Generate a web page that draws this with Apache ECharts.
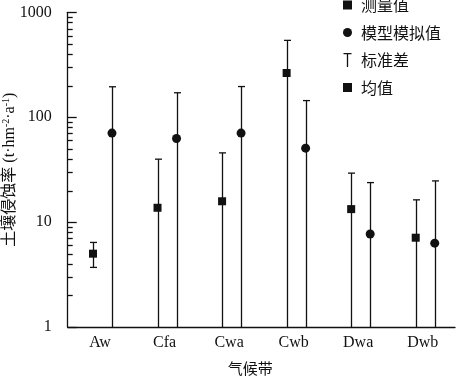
<!DOCTYPE html>
<html><head><meta charset="utf-8">
<script src="https://cdn.jsdelivr.net/npm/echarts@6/dist/echarts.min.js"></script>
<style>html,body{margin:0;padding:0;background:#fff}#c{width:457px;height:379px}</style>
</head><body><div id="c"></div>
<script>
const categories = ['Aw', 'Cfa', 'Cwa', 'Cwb', 'Dwa', 'Dwb'];
const measuredMean  = [5.0, 13.7, 15.8, 264, 13.3, 7.1];
const measuredUpper = [6.4, 39.8, 45.7, 540, 29.3, 16.3];
const measuredLower = [3.7, null, null, null, null, null];
const modelMean  = [70.5, 62.6, 70.5, 50.7, 7.7, 6.3];
const modelUpper = [195, 171, 196, 144, 23.8, 24.7];
const modelLower = [null, null, null, null, null, null];
const yTickValues = [1, 10, 100, 1000];
const minorTickValues = [2,3,4,5,6,7,8,9,20,30,40,50,60,70,80,90,200,300,400,500,600,700,800,900];

const Y_MIN = yTickValues[0], Y_MAX = yTickValues[yTickValues.length - 1];
const INK = '#111';
const SERIF = '"Liberation Serif","Times New Roman","Noto Sans CJK SC",serif';
const CJK = '"Noto Sans CJK SC",sans-serif';
const OFF_MEAS = -7, OFF_MODEL = 12;

function errData(upper, lower) {
  return categories.map((c, i) => [i, upper[i], lower[i] == null ? Y_MIN : lower[i], lower[i] == null ? 0 : 1]);
}
function errRender(offset) {
  return function (params, api) {
    const i = api.value(0);
    const top = api.coord([i, api.value(1)]);
    const bot = api.coord([i, api.value(2)]);
    const x = Math.round(top[0] + offset) + 0.5;
    const st = { stroke: INK, lineWidth: 1.3 };
    const ch = [
      { type: 'line', shape: { x1: x, y1: top[1], x2: x, y2: bot[1] }, style: st },
      { type: 'line', shape: { x1: x - 3.5, y1: top[1], x2: x + 3.5, y2: top[1] }, style: st }
    ];
    if (api.value(3) === 1) ch.push({ type: 'line', shape: { x1: x - 3.5, y1: bot[1], x2: x + 3.5, y2: bot[1] }, style: st });
    return { type: 'group', children: ch };
  };
}
function tickRender(len) {
  return function (params, api) {
    const p = api.coord([0, api.value(1)]);
    const band = api.size([1, 0])[0];
    const x0 = p[0] - band / 2;
    const y = Math.round(p[1]) + 0.5;
    return { type: 'group', children: [{ type: 'line', shape: { x1: x0, y1: y, x2: x0 + len, y2: y }, style: { stroke: INK, lineWidth: 1.3 } }] };
  };
}

const chart = echarts.init(document.getElementById('c'), null, { renderer: 'canvas' });
chart.setOption({
  animation: false,
  backgroundColor: '#fff',
  grid: { left: 67.7, right: 2, top: 12.3, bottom: 52, containLabel: false, outerBoundsMode: 'none' },
  legend: {
    orient: 'vertical', left: 338, top: -9,
    itemWidth: 9, itemHeight: 14, itemGap: 9.5,
    textStyle: { fontFamily: CJK, fontSize: 16, color: INK, lineHeight: 18, padding: [0, 0, 0, 4] },
    data: [
      { name: '测量值', icon: 'path://M0,0H8V8H0Z' },
      { name: '模型模拟值', icon: 'circle' },
      { name: '标准差', icon: 'path://M0,0H8V1.3H4.65V14H3.35V1.3H0Z' },
      { name: '均值', icon: 'path://M0,0H8V8H0Z', itemStyle: { color: INK, opacity: 1 } }
    ],
    selectedMode: false
  },
  xAxis: {
    type: 'category', data: categories, boundaryGap: true,
    axisLine: { lineStyle: { color: INK, width: 1.3 } },
    axisTick: { show: false },
    axisLabel: { fontFamily: SERIF, fontSize: 16, color: INK, margin: 8 },
    name: '气候带', nameLocation: 'middle', nameGap: 34, nameMoveOverlap: false,
    nameTextStyle: { fontFamily: CJK, fontSize: 15, color: INK, padding: [0, 22, 0, 0] }
  },
  yAxis: {
    type: 'log', logBase: 10, min: Y_MIN, max: Y_MAX, interval: 1,
    axisLine: { show: true, lineStyle: { color: INK, width: 1.3 } },
    axisTick: { show: false },
    splitLine: { show: false },
    axisLabel: { fontFamily: SERIF, fontSize: 16, color: INK, margin: 16, formatter: v => String(v) },
    name: '土壤侵蚀率 (t·hm{s|-2}·a{s|-1})', nameLocation: 'middle', nameGap: 50, nameRotate: 90, nameMoveOverlap: false,
    nameTextStyle: {
      fontFamily: SERIF, fontSize: 16, color: INK,
      rich: { s: { fontFamily: SERIF, fontSize: 10, color: INK, verticalAlign: 'top', padding: [0, 0, 6, 0] } }
    }
  },
  series: [
    { name: 'majorTicks', type: 'custom', z: 5, data: yTickValues.map(v => [0, v]), renderItem: tickRender(9) },
    { name: 'minorTicks', type: 'custom', z: 5, data: minorTickValues.map(v => [0, v]), renderItem: tickRender(5) },
    { name: '标准差', type: 'custom', itemStyle: { color: INK }, z: 2, data: errData(measuredUpper, measuredLower), renderItem: errRender(OFF_MEAS) },
    { name: '标准差', type: 'custom', itemStyle: { color: INK }, z: 2, data: errData(modelUpper, modelLower), renderItem: errRender(OFF_MODEL) },
    {
      name: '测量值', type: 'scatter', symbol: 'rect', symbolSize: 8, symbolOffset: [OFF_MEAS, 0], z: 3,
      itemStyle: { color: INK, opacity: 1 },
      data: categories.map((c, i) => [i, measuredMean[i]])
    },
    {
      name: '模型模拟值', type: 'scatter', symbol: 'circle', symbolSize: 9, symbolOffset: [OFF_MODEL, 0], z: 3,
      itemStyle: { color: INK, opacity: 1 },
      data: categories.map((c, i) => [i, modelMean[i]])
    },
    { name: '均值', type: 'scatter', symbol: 'rect', itemStyle: { color: INK, opacity: 1 }, data: [[0, '-']] }
  ]
});
</script></body></html>
